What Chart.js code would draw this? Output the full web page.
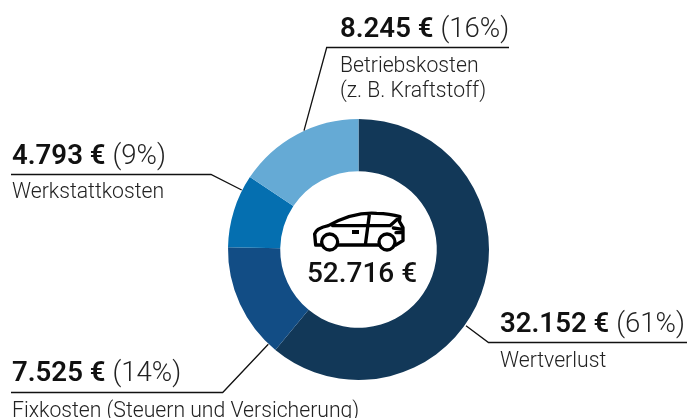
<!DOCTYPE html>
<html><head><meta charset="utf-8">
<style>html,body{margin:0;padding:0;background:#fff}#w{position:relative;width:687px;height:418px}</style>
<script src="https://cdn.jsdelivr.net/npm/chart.js@4"></script>
</head><body><div id="w"><canvas id="c" width="687" height="418"></canvas></div>
<script>
const categories = ["Wertverlust","Fixkosten (Steuern und Versicherung)","Werkstattkosten","Betriebskosten"];
const values = [32152,7525,4793,8245];
const valueLabels = ["32.152 €","7.525 €","4.793 €","8.245 €"];
const percentLabels = ["(61%)","(14%)","(9%)","(16%)"];
const colors = ["#123858","#124d85","#056fb0","#65aad5"];
const totalLabel = "52.716 €";
const annotations = [
 {head:[500,332],subs:[["Wertverlust",500,367]],line:[[466,325.7],[488.5,342.5],[687,342.5]]},
 {head:[12,381],subs:[["Fixkosten (Steuern und Versicherung)",12,417]],line:[[268.3,344.3],[222.7,392.5],[11,392.5]]},
 {head:[12,163.5],subs:[["Werkstattkosten",12,198]],line:[[241.7,190],[211,174.5],[11,174.5]]},
 {head:[340,36.5],subs:[["Betriebskosten",340,72],["(z. B. Kraftstoff)",340,97]],line:[[304,130.7],[326.7,47.5],[509,47.5]]}
];
const annotate = { id:'annotate', afterDraw(ch){
  const x=ch.ctx; x.save();
  x.textBaseline='alphabetic'; x.textAlign='left';
  annotations.forEach((a,i)=>{
    x.strokeStyle='#111'; x.lineWidth=1.3; x.beginPath();
    a.line.forEach((p,j)=>j?x.lineTo(p[0],p[1]):x.moveTo(p[0],p[1])); x.stroke();
    x.fillStyle='#111';
    x.font='600 27.6px Roboto';
    x.fillText(valueLabels[i],a.head[0],a.head[1]);
    const w=x.measureText(valueLabels[i]+' ').width;
    x.fillStyle='#222';
    x.font='300 27.6px Roboto';
    x.fillText(percentLabels[i],a.head[0]+w,a.head[1]);
    x.font='300 21.2px Roboto';
    a.subs.forEach(s=>x.fillText(s[0],s[1],s[2]));
  });
  x.fillStyle='#111'; x.textAlign='center';
  x.font='500 28px Roboto';
  x.fillText(totalLabel,362,282);
  // car icon
  x.translate(220,110); x.scale(1/3,1/3);
  x.strokeStyle='#000'; x.lineWidth=10; x.lineJoin='round'; x.lineCap='round';
  x.beginPath();
  x.moveTo(303,405); x.lineTo(287,405); x.lineTo(284,372);
  x.quadraticCurveTo(288,355,325,347);
  x.quadraticCurveTo(400,305,470,310);
  x.quadraticCurveTo(510,311,540,320);
  x.lineTo(538,334); x.lineTo(549,353); x.lineTo(549,392); x.lineTo(527,405);
  x.moveTo(355,405); x.lineTo(478,405);
  x.moveTo(338,347); x.lineTo(510,347); x.lineTo(540,320);
  x.moveTo(448,314); x.lineTo(436,405);
  x.moveTo(520,354); x.lineTo(547,358); x.moveTo(528,368); x.lineTo(545,368);
  x.stroke();
  x.beginPath(); x.arc(329,396,24,0,Math.PI*2); x.stroke();
  x.beginPath(); x.arc(501,396,24,0,Math.PI*2); x.stroke();
  x.fillStyle='#000'; x.fillRect(396,360,21,12);
  x.restore();
}};
new Chart(document.getElementById('c'),{
  type:'doughnut',
  data:{labels:categories,datasets:[{data:values,backgroundColor:colors,borderWidth:0}]},
  options:{responsive:false,animation:false,cutout:'60%',
    layout:{padding:{left:228,right:198,top:119,bottom:38}},
    plugins:{legend:{display:false},tooltip:{enabled:false}}},
  plugins:[annotate]
});
</script></body></html>
